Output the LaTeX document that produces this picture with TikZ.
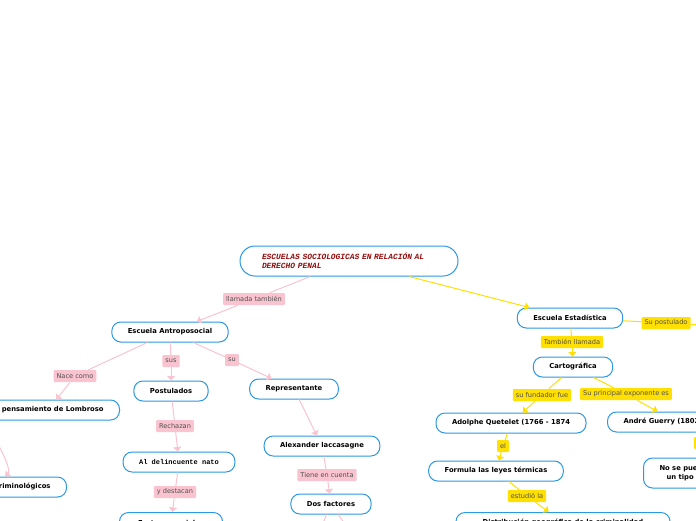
\documentclass[tikz,border=0pt]{standalone}
\usepackage{fontspec}
\setmainfont{DejaVu Sans}
\newfontfamily\codefont{Liberation Mono}
\definecolor{mmblue}{RGB}{45,152,228}
\definecolor{mmpink}{RGB}{249,196,208}
\definecolor{mmyellow}{RGB}{255,224,0}
\definecolor{mmred}{RGB}{150,10,10}
\definecolor{mmgray}{RGB}{80,80,80}
\usetikzlibrary{arrows.meta,positioning}

\begin{document}
\begin{tikzpicture}[x=1pt, y=-1pt,
  every node/.style={font=\fontsize{6.6}{8}\selectfont},
  topic/.style={draw=mmblue, line width=1pt, fill=white, rounded corners=9pt, minimum height=20pt, inner xsep=16pt, inner ysep=0pt, align=center, font=\fontsize{6.8}{9}\selectfont\bfseries},
  pinklbl/.style={fill=mmpink, text=mmgray, rounded corners=1pt, inner xsep=3pt, inner ysep=0pt, minimum height=12pt},
  yellowlbl/.style={pinklbl, fill=mmyellow},
  pinkline/.style={draw=mmpink, line width=1pt},
  pinkarrow/.style={pinkline, -{Triangle[width=8pt,length=4.5pt]}},
  yellowline/.style={pinkline, draw=mmyellow},
  yellowarrow/.style={pinkarrow, draw=mmyellow}]
\fill[white] (0,0) rectangle (696,520);
\useasboundingbox (0,0) rectangle (696,520);
\clip (0,0) rectangle (696,520);
% Main topic
\node[topic, rounded corners=15pt, minimum height=30pt, text width=174pt, inner xsep=22pt, align=left, text=mmred, font=\fontsize{7.9}{9}\codefont\bfseries\itshape] (root) at (349,261) {ESCUELAS SOCIOLOGICAS EN RELACIÓN AL\\DERECHO PENAL};
% Antroposocial branch
\node[topic] (antro) at (170,332) {Escuela Antroposocial};
\node[topic, anchor=east] (lomb) at (120,410) {El pensamiento de Lombroso};
\node[topic, anchor=east] (crim) at (67,487) {Estudios criminológicos};
\node[topic] (post) at (171,391) {Postulados};
\node[topic, font=\fontsize{7}{9}\codefont\bfseries] (nato) at (179,462) {Al delincuente nato};
\node[topic, anchor=north, minimum width=103pt] (fact) at (171,512) {Factores sociales};
\node[topic] (repr) at (294,389) {Representante};
\node[topic] (alex) at (322,446) {Alexander laccasagne};
\node[topic] (dos) at (331,504) {Dos factores};
\coordinate (dosA) at (316,540);
\coordinate (dosB) at (356,540);
% Estadistica branch
\node[topic] (estad) at (570,318) {Escuela Estadística};
\node[topic] (carto) at (573,367) {Cartográfica};
\node[topic] (quet) at (511,423) {Adolphe Quetelet (1766 - 1874};
\node[topic, anchor=west] (guer) at (607,422) {André Guerry (1802 - 1866)};
\node[topic] (form) at (496,471) {Formula las leyes térmicas};
\node[topic, anchor=north, minimum width=214pt] (dist) at (563,512) {Distribución geográfica de la criminalidad};
\node[topic, minimum height=30pt, anchor=west] (nose) at (643,473) {No se puede hablar de\\un tipo de criminal};
\coordinate (postEnd) at (740,327);
% Labels
\node[pinklbl] (tamb) at (254,299) {llamada también};
\node[pinklbl] (nace) at (75,376) {Nace como};
\node[pinklbl] (sus) at (171,361) {sus};
\node[pinklbl] (su) at (232,360) {su};
\node[pinklbl] (rech) at (175,426) {Rechazan};
\node[pinklbl] (dest) at (175,492) {y destacan};
\node[pinklbl] (tien) at (327,475) {Tiene en cuenta};
\node[yellowlbl] (supo) at (666,323) {Su postulado};
\node[yellowlbl] (llam) at (572,342) {También llamada};
\node[yellowlbl] (fund) at (542,395) {su fundador fue};
\node[yellowlbl] (expo) at (626,394) {Su principal exponente es};
\node[yellowlbl] (el) at (503,446) {el};
\node[yellowlbl] (estu) at (527,496) {estudió la};
\node[yellowlbl, anchor=west] (conc) at (694,443) {concluyó};
% Pink connectors
\draw[pinkline] (root) -- (tamb);
\draw[pinkarrow] (tamb) -- (antro);
\draw[pinkline] (antro) -- (nace);
\draw[pinkarrow] (nace) -- (lomb);
\draw[pinkarrow] (lomb.south west) .. controls (-5,430) and (12,470) .. (crim.north);
\draw[pinkline] (antro) -- (sus);
\draw[pinkarrow] (sus) -- (post);
\draw[pinkline] (antro) -- (su);
\draw[pinkarrow] (su) -- (repr);
\draw[pinkline] (post) -- (rech);
\draw[pinkarrow] (rech) -- (nato);
\draw[pinkline] (nato) -- (dest);
\draw[pinkarrow] (dest) -- (fact);
\draw[pinkarrow] (repr) -- (alex);
\draw[pinkline] (alex) -- (tien);
\draw[pinkarrow] (tien) -- (dos);
\draw[pinkline] (dos) -- (dosA);
\draw[pinkline] (dos) -- (dosB);
% Yellow connectors
\draw[yellowarrow] (root) -- (estad);
\draw[yellowline] (estad) -- (supo);
\draw[yellowarrow] (supo) -- (postEnd);
\draw[yellowline] (estad) -- (llam);
\draw[yellowarrow] (llam) -- (carto);
\draw[yellowline] (carto) -- (fund);
\draw[yellowarrow] (fund) -- (quet);
\draw[yellowline] (carto) -- (expo);
\draw[yellowarrow] (expo) -- (guer);
\draw[yellowline] (quet) -- (el);
\draw[yellowarrow] (el) -- (form);
\draw[yellowline] (form) -- (estu);
\draw[yellowarrow] (estu) -- (dist);
\draw[yellowline] (conc.north) -- (conc.north |- guer.south);
\draw[yellowarrow] (conc.south) -- (conc.south |- nose.north);
\end{tikzpicture}
\end{document}
